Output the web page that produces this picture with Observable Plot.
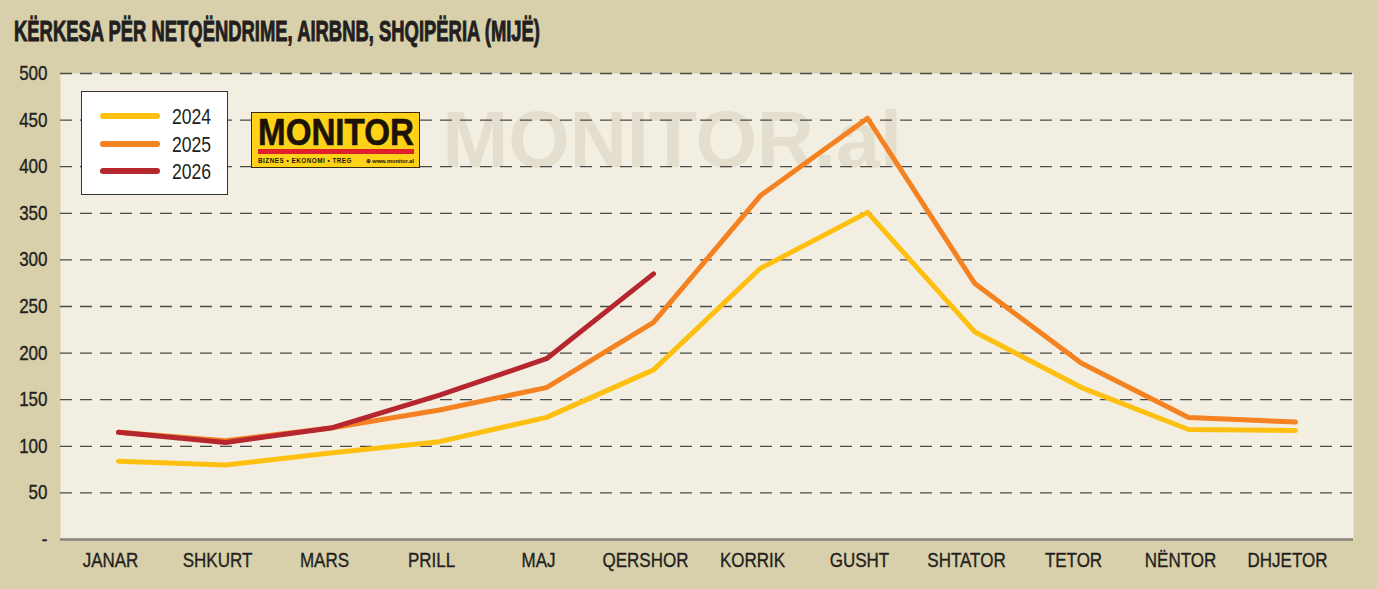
<!DOCTYPE html>
<html><head><meta charset="utf-8">
<script src="https://cdn.jsdelivr.net/npm/d3@7"></script>
<script src="https://cdn.jsdelivr.net/npm/@observablehq/plot@0.6"></script>
<style>
html,body{margin:0;padding:0}
body{background:#d8d0ab;width:1377px;height:589px;overflow:hidden;position:relative;font-family:"Liberation Sans",sans-serif;color:#231f20}
#title{position:absolute;left:14px;top:17px;font-weight:bold;font-size:29px;font-family:"Liberation Sans",sans-serif;color:#231f20;transform-origin:left top;white-space:nowrap;line-height:1;-webkit-text-stroke:1px #231f20}
#chart{position:absolute;left:0;top:55px}
#legend{position:absolute;left:81px;top:91px;width:145px;height:102px;background:#fff;border:1.5px solid #333}
.sw{position:absolute;left:18px;width:60px;height:6px;border-radius:3px}
.lt{position:absolute;left:90px;font-size:22px;line-height:1;color:#231f20;font-family:"Liberation Sans",sans-serif;transform:scaleX(0.8);transform-origin:left top}
#logo{position:absolute;left:251px;top:112px;width:167px;height:54px;background:#ffd21a;border:1px solid #3a2a10}
#logo .m{position:absolute;left:6px;top:2px;font:bold 36px "Liberation Sans",sans-serif;color:#1c1208;transform-origin:left top;line-height:1;white-space:nowrap;-webkit-text-stroke:0.6px #1c1208}
#logo .bar{position:absolute;left:6px;top:36px;width:156px;height:5px;background:#e2202c}
#logo .s1{position:absolute;left:6px;top:44px;font:bold 6.5px "Liberation Sans",sans-serif;color:#1c1208;letter-spacing:0.5px;white-space:nowrap;transform-origin:left top}
#logo .s2{position:absolute;left:114px;top:44px;font:bold 6px "Liberation Sans",sans-serif;color:#1c1208;white-space:nowrap;transform-origin:left top}
</style>
</head><body>
<div id="title">KËRKESA PËR NETQËNDRIME, AIRBNB, SHQIPËRIA (MIJË)</div>
<div id="chart"></div>
<div id="legend"></div>
<div id="logo"><div class="m">MONITOR</div><div class="bar"></div><div class="s1">BIZNES • EKONOMI • TREG</div><div class="s2">⊕ www.monitor.al</div></div>
<script>
const months = ["JANAR","SHKURT","MARS","PRILL","MAJ","QERSHOR","KORRIK","GUSHT","SHTATOR","TETOR","NËNTOR","DHJETOR"];
const years = ["2024","2025","2026"];
const colors = ["#fdc010","#f58220","#b5262e"];
const v2024 = [84,80,93,105,131,182,291,351,223,163,118,117];
const v2025 = [115,106,120,139,163,233,369,452,275,189,131,126];
const v2026 = [115,104,120,155,194,285];
const yTicks = [0,50,100,150,200,250,300,350,400,450,500];
const watermark = "MONITOR.al";

const series = [v2024, v2025, v2026];
const rows = series.flatMap((vals, i) => vals.map((v, j) => ({year: years[i], month: months[j], value: v})));

const chart = Plot.plot({
  width: 1377, height: 534,
  marginLeft: 60, marginRight: 24, marginTop: 18, marginBottom: 50,
  style: {background: "transparent", fontFamily: "'Liberation Sans', sans-serif", fontSize: "20px", color: "#231f20"},
  x: {type: "point", domain: months, padding: 0.5, label: null},
  y: {domain: [0, 500], label: null},
  color: {domain: years, range: colors},
  marks: [
    Plot.frame({fill: "#f2efe2", stroke: null}),
    Plot.text([watermark], {frameAnchor: "top-left", dx: 382, dy: 37, text: d => d, textAnchor: "start", lineAnchor: "top",
      fontSize: 79, fontWeight: "bold", fontFamily: "'Liberation Sans', sans-serif", fill: "#e3dece"}),
    Plot.ruleY(yTicks.filter(d => d > 0), {stroke: "#4a4a48", strokeWidth: 1.3, strokeDasharray: "12,8"}),
    Plot.ruleY([0], {stroke: "#85827a", strokeWidth: 2.5}),
    Plot.axisY({ticks: yTicks, tickSize: 0, tickPadding: 13, tickFormat: d => d === 0 ? "-" : d}),
    Plot.axisX({tickSize: 0, tickPadding: 13, dx: -8}),
    Plot.line(rows, {x: "month", y: "value", z: "year", stroke: "year", strokeWidth: 5, strokeLinecap: "round"})
  ]
});
document.getElementById("chart").append(chart);

// condensed look for tick labels
d3.select(chart).selectAll('g[aria-label="x-axis tick label"] text, g[aria-label="y-axis tick label"] text')
  .each(function() {
    const t = this.getAttribute("transform") || "";
    this.setAttribute("transform", t + " scale(0.85,1)");
  })
  .attr("stroke", "#231f20").attr("stroke-width", 0.35);

const leg = document.getElementById("legend");
years.forEach((y, i) => {
  const top = [21, 49, 76][i];
  const sw = document.createElement("div");
  sw.className = "sw"; sw.style.top = top + "px"; sw.style.background = colors[i];
  const t = document.createElement("div");
  t.className = "lt"; t.style.top = (top - 7) + "px"; t.textContent = y;
  leg.append(sw, t);
});

function fitX(el, w) { el.style.transform = `scaleX(${w / el.getBoundingClientRect().width})`; }
fitX(document.getElementById("title"), 526);
fitX(document.querySelector("#logo .m"), 156);
fitX(document.querySelector("#logo .s1"), 94);
fitX(document.querySelector("#logo .s2"), 48);
</script>
</body></html>
